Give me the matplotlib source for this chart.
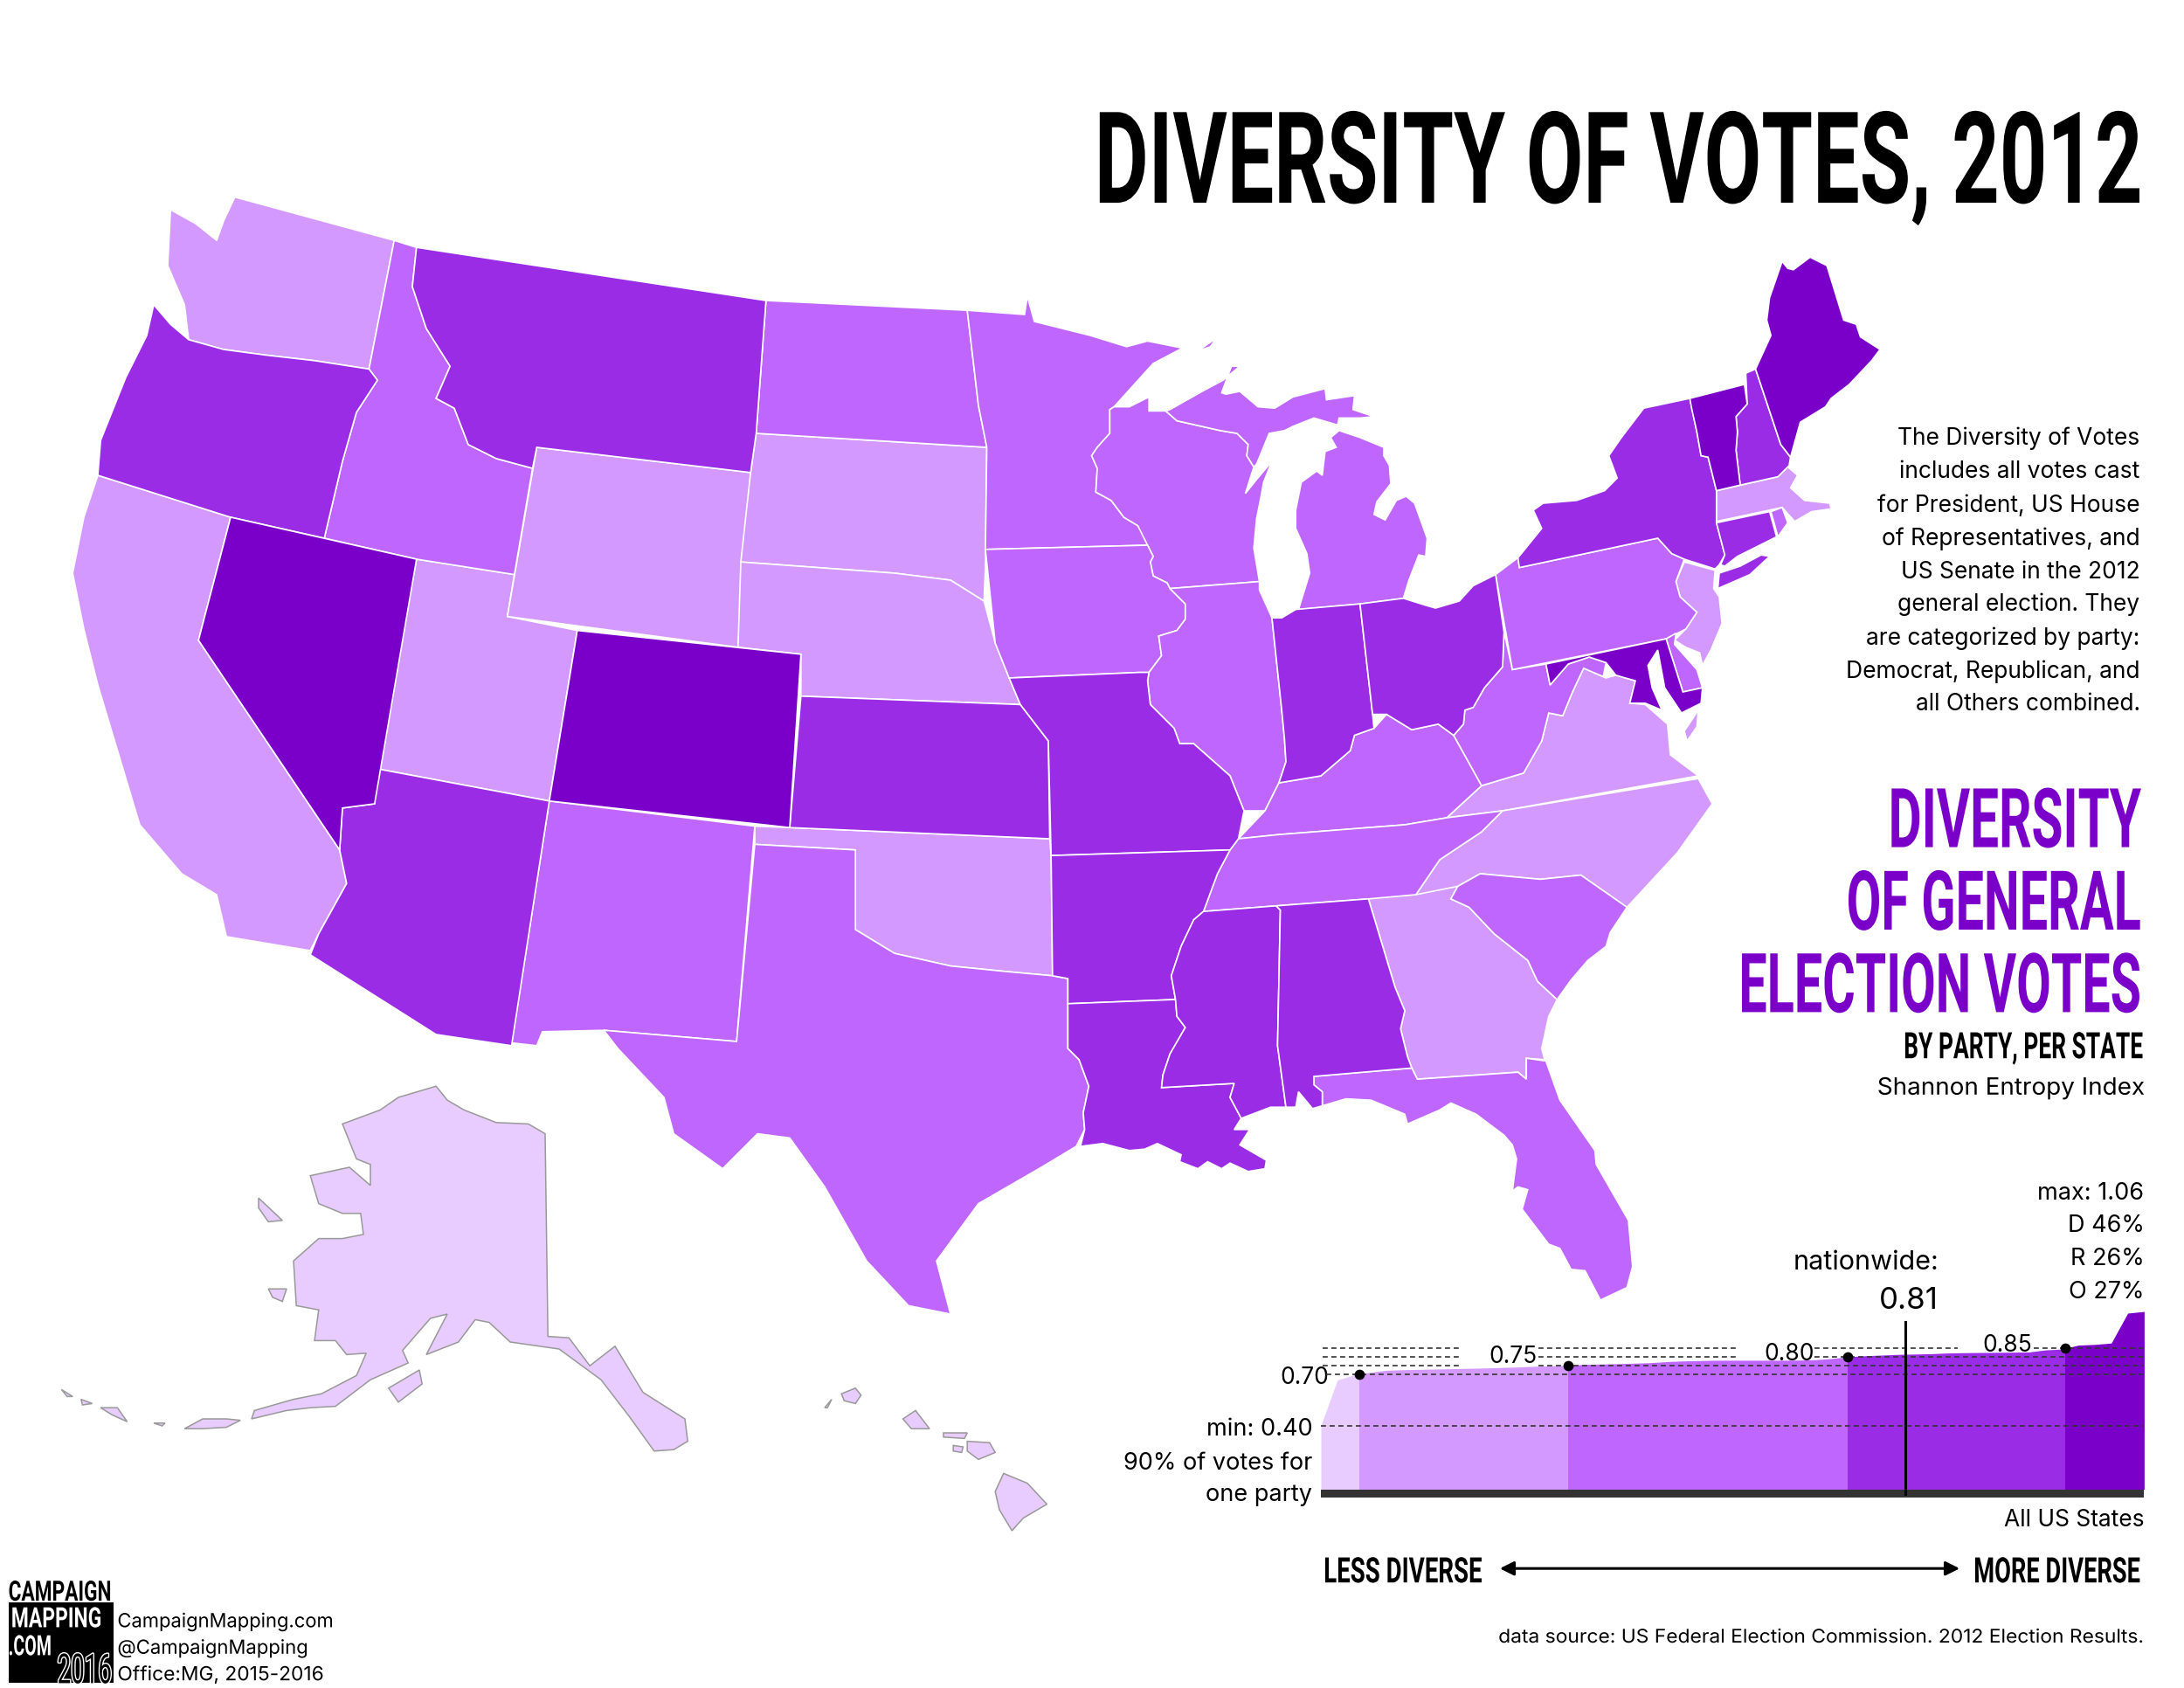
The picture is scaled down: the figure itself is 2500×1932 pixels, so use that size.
import numpy as np
import matplotlib
matplotlib.use("Agg")
import matplotlib.pyplot as plt
import matplotlib.patheffects as pe
from matplotlib.patches import Rectangle
from matplotlib.transforms import Affine2D, Bbox

# page units (the whole figure is one big axes)
W, H = 1562.5, 1207.5

# state outlines
WA = [(122,150),(140,160),(155,172),(160,158),(168,141),(282,172),(264,264),(225,258),(190,254),(160,250),(135,243),(132,218),(120,190)]
OR = [(110,218),(122,232),(135,243),(160,250),(190,254),(225,258),(264,264),(270,272),(255,295),(245,330),(232,385),(165,370),(70,340),(72,315),(90,270),(105,240)]
CA = [(70,340),(165,370),(142,458),(243,608),(248,632),(228,668),(222,680),(162,670),(155,640),(130,625),(100,590),(85,540),(70,490),(60,450),(52,410),(60,370)]
NV = [(165,370),(298,400),(268,575),(245,578),(243,608),(142,458)]
ID = [(282,172),(298,177),(295,205),(305,235),(322,262),(312,285),(325,292),(335,318),(355,328),(381,335),(368,411),(298,400),(232,385),(245,330),(255,295),(270,272),(264,264)]
MT = [(298,177),(548,215),(541,310),(537,338),(384,320),(381,335),(355,328),(335,318),(325,292),(312,285),(322,262),(305,235),(295,205)]
WY = [(384,320),(537,338),(528,463),(363,441)]
UT = [(298,400),(368,411),(363,441),(413,451),(393,573),(270,550)]
AZ = [(270,550),(393,573),(366,748),(312,740),(222,683),(228,668),(248,632),(243,608),(245,578),(268,575)]
CO = [(413,451),(573,468),(565,592),(393,573)]
NM = [(393,573),(540,591),(527,745),(432,737),(388,738),(384,748),(366,746)]
ND = [(548,215),(692,222),(700,290),(706,320),(541,310)]
SD = [(541,310),(706,320),(705,405),(704,430),(680,415),(640,410),(530,402),(537,338)]
NE = [(530,402),(640,410),(680,415),(704,430),(712,460),(722,485),(730,504),(573,498),(573,468),(528,463)]
KS = [(573,498),(730,504),(750,530),(751,600),(565,592)]
OK = [(540,591),(565,592),(751,600),(752,612),(753,698),(720,695),(680,691),(640,682),(612,665),(612,608),(540,604)]
TX = [(540,604),(612,608),(612,665),(640,682),(680,691),(720,695),(753,698),(764,700),(764,750),(772,758),(779,777),(775,796),(776,808),(770,820),(745,835),(700,861),(670,902),(680,940),(650,934),(620,902),(590,849),(565,814),(542,811),(517,836),(482,811),(475,785),(442,750),(432,737),(527,745)]
MN = [(692,222),(733,225),(735,212),(740,230),(780,240),(806,248),(821,244),(846,249),(825,260),(797,291),(794,293),(794,310),(785,320),(781,326),(785,335),(784,352),(795,358),(804,370),(814,376),(820,385),(821,390),(705,393),(706,320),(700,290)]
IA = [(705,393),(821,390),(825,398),(823,402),(825,412),(835,417),(837,421),(848,432),(848,443),(842,451),(829,455),(831,469),(822,481),(815,481),(722,485),(712,460)]
MO = [(722,485),(815,481),(822,481),(821,487),(823,504),(840,521),(844,532),(854,532),(880,555),(890,580),(886,600),(880,608),(752,612),(750,530),(730,504)]
AR = [(752,612),(880,608),(871,625),(861,652),(854,658),(845,677),(838,698),(841,715),(764,718),(764,700),(753,698)]
LA = [(764,718),(841,715),(842,727),(848,735),(837,754),(832,769),(831,778),(883,775),(880,785),(888,800),(883,808),(894,808),(887,819),(906,830),(905,836),(893,838),(880,832),(874,836),(864,831),(857,836),(844,831),(845,826),(828,818),(819,822),(808,823),(789,818),(773,820),(776,808),(775,796),(779,777),(772,758),(764,750)]
WI = [(794,293),(797,291),(808,291),(822,284),(822,294),(834,294),(842,301),(873,308),(885,310),(893,318),(892,326),(897,334),(891,353),(899,343),(910,330),(904,345),(902,356),(899,371),(897,392),(901,416),(837,421),(835,417),(825,412),(823,402),(825,398),(821,390),(814,376),(804,370),(795,358),(784,352),(785,335),(781,326),(785,320),(794,310)]
UP_MI = [(834,294),(837,293),(860,280),(875,272),(887,262),(881,262),(874,281),(877,282),(887,280),(900,291),(912,292),(925,284),(948,278),(949,286),(969,283),(968,293),(983,298),(973,299),(958,299),(957,304),(940,299),(925,305),(919,308),(908,310),(899,332),(897,334),(892,326),(893,318),(885,310),(873,308),(842,301)]
ISLE_ROYALE = [(857,251),(870,242),(866,248)]
LOW_MI = [(958,308),(973,313),(990,320),(990,326),(994,333),(995,346),(985,359),(983,368),(991,372),(999,358),(1006,355),(1012,360),(1021,385),(1020,398),(1015,397),(1008,415),(1004,428),(973,432),(929,436),(937,410),(935,396),(927,378),(927,365),(931,345),(942,337),(946,340),(948,323),(956,320),(952,313)]
IL = [(837,421),(901,416),(901,422),(910,442),(917,508),(919,529),(920,545),(915,560),(905,580),(890,580),(880,555),(854,532),(844,532),(840,521),(823,504),(821,487),(822,481),(831,469),(829,455),(842,451),(848,443),(848,432)]
IN = [(910,442),(917,442),(927,436),(973,432),(982,511),(983,521),(969,526),(966,537),(945,555),(915,560),(920,545),(919,529),(917,508)]
OH = [(973,432),(1004,428),(1020,433),(1027,435),(1044,430),(1054,419),(1070,411),(1076,452),(1075,477),(1062,492),(1054,506),(1048,508),(1047,518),(1040,526),(1029,518),(1010,522),(992,511),(982,511)]
KY = [(886,600),(905,580),(915,560),(945,555),(966,537),(969,526),(983,521),(992,511),(1010,522),(1029,518),(1040,526),(1045,535),(1060,562),(1035,585),(1005,590),(915,597)]
TN = [(886,600),(915,597),(1005,590),(1035,585),(1075,580),(1060,595),(1030,615),(1013,640),(979,643),(913,648),(861,652),(871,625),(880,608)]
MS = [(861,652),(913,648),(916,651),(914,748),(920,792),(909,792),(888,800),(880,785),(883,775),(831,778),(832,769),(837,754),(848,735),(842,727),(841,715),(838,698),(845,677),(854,658)]
AL = [(913,648),(979,643),(998,706),(1005,723),(1002,736),(1007,756),(1010,764),(940,770),(940,776),(946,781),(946,791),(939,793),(929,781),(927,792),(920,792),(914,748),(916,651)]
GA = [(979,643),(1043,634),(1038,643),(1051,649),(1069,668),(1093,687),(1100,702),(1114,715),(1108,727),(1103,750),(1105,758),(1092,757),(1092,772),(1086,767),(1014,772),(1010,764),(1007,756),(1002,736),(1005,723),(998,706)]
FL = [(940,770),(1010,764),(1014,772),(1086,767),(1092,772),(1092,757),(1106,759),(1116,787),(1141,823),(1142,833),(1165,873),(1168,906),(1164,921),(1145,930),(1134,909),(1124,908),(1116,893),(1108,890),(1089,865),(1093,851),(1086,849),(1082,852),(1085,829),(1082,819),(1076,812),(1056,797),(1038,789),(1030,794),(1007,804),(1005,797),(981,787),(963,786),(946,791),(946,781),(940,776)]
FL_KEYS = [(1118,953),(1130,952),(1139,946),(1132,951)]
SC = [(1038,643),(1043,634),(1059,625),(1102,629),(1131,626),(1164,649),(1152,667),(1149,677),(1136,687),(1124,701),(1114,715),(1100,702),(1093,687),(1069,668),(1051,649)]
NC = [(1075,580),(1215,557),(1225,575),(1200,610),(1164,649),(1131,626),(1102,629),(1059,625),(1043,634),(1013,640),(1030,615),(1060,595)]
VA = [(1133,478),(1149,485),(1156,483),(1170,487),(1166,503),(1177,504),(1193,518),(1195,540),(1215,555),(1075,580),(1035,585),(1060,562),(1090,553),(1103,530),(1108,510),(1118,512),(1125,495)]
VA_SHORE = [(1215,508),(1205,523),(1207,530),(1214,520)]
WV = [(1076,452),(1082,479),(1106,475),(1109,490),(1122,475),(1137,470),(1149,474),(1147,484),(1133,478),(1125,495),(1118,512),(1108,510),(1103,530),(1090,553),(1060,562),(1045,535),(1040,526),(1047,518),(1048,508),(1054,506),(1062,492),(1075,477)]
PA = [(1070,411),(1086,399),(1087,406),(1186,385),(1196,396),(1205,400),(1199,416),(1202,427),(1214,438),(1206,450),(1192,457),(1082,479)]
NY = [(1176,292),(1209,285),(1214,309),(1217,326),(1222,327),(1228,351),(1228,374),(1234,397),(1230,404),(1227,407),(1205,400),(1196,396),(1186,385),(1087,406),(1086,399),(1103,378),(1097,365),(1104,360),(1128,358),(1148,351),(1157,342),(1151,326),(1160,313)]
LONG_ISLAND = [(1230,410),(1245,405),(1260,397),(1266,398),(1252,411),(1229,421)]
NJ = [(1205,402),(1227,408),(1226,421),(1230,427),(1232,446),(1224,465),(1218,476),(1216,467),(1206,463),(1198,458),(1206,450),(1214,438),(1202,427),(1199,416)]
DE = [(1192,457),(1199,453),(1198,461),(1206,470),(1214,479),(1218,492),(1204,495)]
MD = [(1106,475),(1192,457),(1204,495),(1218,492),(1217,503),(1203,510),(1191,492),(1186,465),(1179,476),(1182,492),(1189,508),(1177,503),(1166,503),(1170,487),(1156,483),(1149,474),(1137,470),(1122,475),(1109,490)]
CT = [(1228,374),(1266,366),(1271,384),(1243,398),(1234,405),(1231,404),(1234,397)]
RI = [(1267,366),(1275,363),(1279,374),(1272,384)]
MA = [(1228,351),(1272,341),(1279,334),(1286,340),(1281,349),(1291,358),(1309,360),(1310,364),(1296,366),(1284,373),(1275,363),(1228,373)]
VT = [(1209,285),(1248,275),(1250,289),(1242,298),(1243,309),(1242,322),(1245,347),(1228,351),(1222,327),(1217,326),(1214,309),(1210,291)]
NH = [(1256,264),(1274,318),(1281,327),(1280,333),(1272,341),(1245,347),(1242,322),(1243,309),(1242,298),(1250,289),(1249,267)]
ME = [(1275,187),(1279,192),(1283,193),(1295,184),(1307,190),(1319,229),(1328,232),(1331,241),(1345,250),(1339,258),(1323,275),(1310,285),(1306,291),(1288,302),(1281,327),(1274,318),(1256,264),(1261,253),(1267,240),(1264,229),(1266,213)]

AK = [(312,777),(320,787),(332,794),(355,803),(378,804),(390,811),(392,956),(407,957),(422,977),(440,963),(460,996),(490,1015),(492,1031),(482,1037),(468,1038),(450,1013),(430,987),(400,965),(365,960),(350,946),(340,944),(328,960),(305,969),(320,940),(308,943),(288,966),(292,975),(265,987),(240,1006),(222,1007),(205,1009),(180,1015),(182,1009),(210,1001),(230,997),(255,984),(262,968),(248,969),(240,959),(225,959),(228,937),(212,934),(210,902),(228,886),(245,886),(260,883),(258,868),(245,868),(228,861),(222,841),(250,835),(265,848),(265,833),(255,829),(245,804),(272,794),(285,785)]
AK_ST_LAWRENCE = [(185,857),(202,873),(192,874),(185,864)]
AK_NUNIVAK = [(192,922),(205,922),(202,931),(195,928)]
AK_KODIAK = [(278,993),(300,980),(302,990),(285,1003)]
AK_ALEUT_1 = [(44,994),(52,999),(48,999)]
AK_ALEUT_2 = [(58,1001),(66,1004),(59,1005)]
AK_ALEUT_3 = [(72,1007),(84,1007),(91,1017),(80,1012)]
AK_ALEUT_4 = [(132,1022),(145,1015),(162,1015),(172,1016),(162,1021),(145,1022)]
AK_ALEUT_5 = [(110,1018),(118,1018),(116,1020)]
HI_BIG = [(718,1054),(735,1061),(749,1076),(732,1086),(724,1095),(715,1080),(712,1067)]
HI_MAUI = [(692,1031),(708,1032),(712,1039),(700,1044),(692,1038)]
HI_MOLOKAI = [(675,1025),(692,1025),(690,1029),(675,1028)]
HI_LANAI = [(682,1034),(689,1035),(688,1039),(682,1038)]
HI_OAHU = [(646,1015),(655,1009),(665,1022),(652,1022)]
HI_KAUAI = [(602,997),(612,993),(616,998),(612,1004),(604,1002)]
HI_NIIHAU = [(590,1007),(595,1001),(592,1007)]

# map classes, lightest to darkest
class_colors = ['#e9ccff', '#d499ff', '#bf66ff', '#9b2ce6', '#7a00c9']
class_0 = [AK, AK_ST_LAWRENCE, AK_NUNIVAK, AK_KODIAK, AK_ALEUT_1, AK_ALEUT_2, AK_ALEUT_3, AK_ALEUT_4, AK_ALEUT_5,
           HI_BIG, HI_MAUI, HI_MOLOKAI, HI_LANAI, HI_OAHU, HI_KAUAI, HI_NIIHAU]
class_1 = [WA, CA, UT, WY, SD, NE, OK, GA, VA, VA_SHORE, NC, MA, NJ]
class_2 = [ID, ND, MN, WI, UP_MI, ISLE_ROYALE, LOW_MI, IA, IL, NM, TX, KY, TN, WV, PA, SC, FL, FL_KEYS, DE, RI]
class_3 = [OR, MT, AZ, KS, MO, AR, LA, MS, AL, IN, OH, NY, LONG_ISLAND, NH, CT]
class_4 = [NV, CO, ME, VT, MD]

# index per state, sorted, 51 values
index_vals = [0.40, 0.665, 0.695, 0.71, 0.722, 0.725, 0.727, 0.729, 0.731, 0.733, 0.735, 0.738, 0.741, 0.745, 0.748, 0.75,
              0.756, 0.758, 0.76, 0.763, 0.766, 0.772, 0.776, 0.778, 0.78, 0.78, 0.78, 0.78, 0.78, 0.781, 0.783, 0.79,
              0.80, 0.806, 0.81, 0.814, 0.816, 0.818, 0.822, 0.824, 0.825, 0.826, 0.827, 0.828, 0.84, 0.845, 0.868,
              0.872, 0.88, 1.054, 1.064]
thresholds = [0.70, 0.75, 0.80, 0.85]
nationwide_rank = 35.5
dash_segments = [(0.40, 0, 50), (0.70, 0.3, 50), (0.75, 13.2, 50), (0.80, 30, 50), (0.85, 43.3, 50),
                 (0.75, 0.1, 8.5), (0.80, 0.1, 8.5), (0.85, 0.1, 8.5),
                 (0.80, 13.2, 25.3), (0.85, 13.2, 25.3), (0.85, 30, 38.7)]

para_lines = ["The Diversity of Votes", "includes all votes cast", "for President, US House",
              "of Representatives, and", "US Senate in the 2012", "general election. They",
              "are categorized by party:", "Democrat, Republican, and", "all Others combined."]
max_lines = ["max: 1.06", "D 46%", "R 26%", "O 27%"]
min_lines = ["min: 0.40", "90% of votes for", "one party"]
credit_lines = ["CampaignMapping.com", "@CampaignMapping", "Office:MG, 2015-2016"]


class Squeeze(pe.AbstractPathEffect):
    # narrow the glyphs around the anchor, no Bebas style font is installed
    def __init__(self, sx, x0, stroke=0):
        super().__init__()
        self.sx, self.x0, self.stroke = sx, x0, stroke

    def draw_path(self, renderer, gc, tpath, affine, rgbFace=None):
        tr = affine + Affine2D().translate(-self.x0, 0).scale(self.sx, 1).translate(self.x0, 0)
        if self.stroke:
            gc0 = renderer.new_gc()
            gc0.copy_properties(gc)
            gc0.set_foreground('white')
            gc0.set_linewidth(self.stroke)
            renderer.draw_path(gc0, tpath, tr, None)
            gc0.restore()
        renderer.draw_path(gc, tpath, tr, rgbFace)


fig = plt.figure(figsize=(25, 19.32), dpi=100)
ax = fig.add_axes([0, 0, 1, 1])
ax.set_xlim(0, W)
ax.set_ylim(H, 0)
ax.axis('off')
rend = fig.canvas.get_renderer()


def put(x, y, s, size, width=None, ha='right', font='Inter', weight='normal', color='black', stroke=0):
    t = ax.text(x, y, s, fontsize=size, ha=ha, va='baseline', family=font, weight=weight, color=color, zorder=6)
    if width is not None:
        x0 = x * fig.bbox.width / W
        sx = width * fig.bbox.width / W / t.get_window_extent(rend).width
        t.set_path_effects([Squeeze(sx, x0, stroke)])
        # report the narrowed box too
        full_extent = t.get_window_extent

        def narrow_extent(renderer=None, dpi=None):
            b = full_extent(renderer, dpi)
            return Bbox.from_extents(x0 + (b.x0 - x0) * sx, b.y0, x0 + (b.x1 - x0) * sx, b.y1)
        t.get_window_extent = narrow_extent
    return t


for polys, col in zip([class_0, class_1, class_2, class_3, class_4], class_colors):
    for poly in polys:
        xs, ys = zip(*poly)
        if polys is class_0:
            ax.fill(xs, ys, facecolor=col, edgecolor='#999999', linewidth=1.1)
        else:
            ax.fill(xs, ys, facecolor=col, edgecolor='white', linewidth=1.2)

# headings
put(1533, 145, "DIVERSITY OF VOTES, 2012", 105, 750, font='Roboto', weight='bold')
put(1532, 606, "DIVERSITY", 68, 181, font='Roboto', weight='bold', color=class_colors[4])
put(1532, 665, "OF GENERAL", 68, 211, font='Roboto', weight='bold', color=class_colors[4])
put(1532, 724, "ELECTION VOTES", 68, 288, font='Roboto', weight='bold', color=class_colors[4])
put(1533, 757, "BY PARTY, PER STATE", 30, 171, font='Roboto', weight='bold')
put(1535, 783, "Shannon Entropy Index", 19.5, 192)

for yy, line in zip([318, 342, 366, 390, 414, 437, 461, 485, 508], para_lines):
    put(1531, yy, line, 19)

# small chart
ranks = np.arange(len(index_vals))
ax2 = fig.add_axes([945 / W, 1 - 1072.7 / H, 589 / W, 141.45 / H])
ax2.set_xlim(0, 50)
ax2.set_ylim(-0.03, 1.12)
ax2.axis('off')
edges = [0] + [float(np.interp(v, index_vals, ranks)) for v in thresholds] + [50]
for i, col in enumerate(class_colors):
    band = ax2.fill_between(ranks, 0.03, index_vals, color=col, linewidth=0)
    band.set_clip_path(Rectangle((edges[i], 0), edges[i + 1] - edges[i], 1.2, transform=ax2.transData))
ax2.axhspan(-0.016, 0.03, color='#333333', linewidth=0)
for v, x0, x1 in dash_segments:
    ax2.plot([x0, x1], [v, v], color='#333333', lw=1.2, dashes=(3.5, 2.5), clip_on=False)
ax2.scatter(edges[1:5], thresholds, s=55, color='black', zorder=5, clip_on=False)
ax2.plot([nationwide_rank, nationwide_rank], [0, 1.004], color='black', lw=2.2)

for xx, yy, s in zip([951, 1100, 1298, 1454], [990, 975, 973, 967], ["0.70", "0.75", "0.80", "0.85"]):
    put(xx, yy, s, 19)
for yy, s in zip([858, 881, 905, 929], max_lines):
    put(1534, yy, s, 19.5)
for yy, s in zip([1027, 1051, 1074], min_lines):
    put(939, yy, s, 19.5)
put(1387, 908, "nationwide:", 22)
put(1387, 936, "0.81", 25)
put(1534, 1092, "All US States", 19)
put(947, 1132, "LESS DIVERSE", 29, 113, ha='left', font='Roboto', weight='bold')
put(1531, 1132, "MORE DIVERSE", 29, 119, font='Roboto', weight='bold')
ax.annotate('', xy=(1073, 1122), xytext=(1402, 1122), arrowprops=dict(arrowstyle='<|-|>', color='black', lw=2.2, mutation_scale=24, shrinkA=0, shrinkB=0))
put(1534, 1175, "data source: US Federal Election Commission. 2012 Election Results.", 15.5, 462)

# logo block
ax.add_patch(Rectangle((6, 1146), 75, 58, facecolor='black', edgecolor='none', zorder=5))
put(6, 1145, "CAMPAIGN", 23, 74, ha='left', font='Roboto', weight='bold')
put(8, 1164, "MAPPING", 23, 65, ha='left', font='Roboto', weight='bold', color='white')
put(6, 1184, ".COM", 23, 31, ha='left', font='Roboto', weight='bold', color='white')
put(41, 1204, "2016", 34, 39, ha='left', font='Roboto', color='black', stroke=2)
for yy, s, ww in zip([1164, 1183, 1202], credit_lines, [155, 137, 148]):
    put(84, yy, s, 16, ww, ha='left')

fig.savefig('out.png', dpi=100, facecolor='white')
